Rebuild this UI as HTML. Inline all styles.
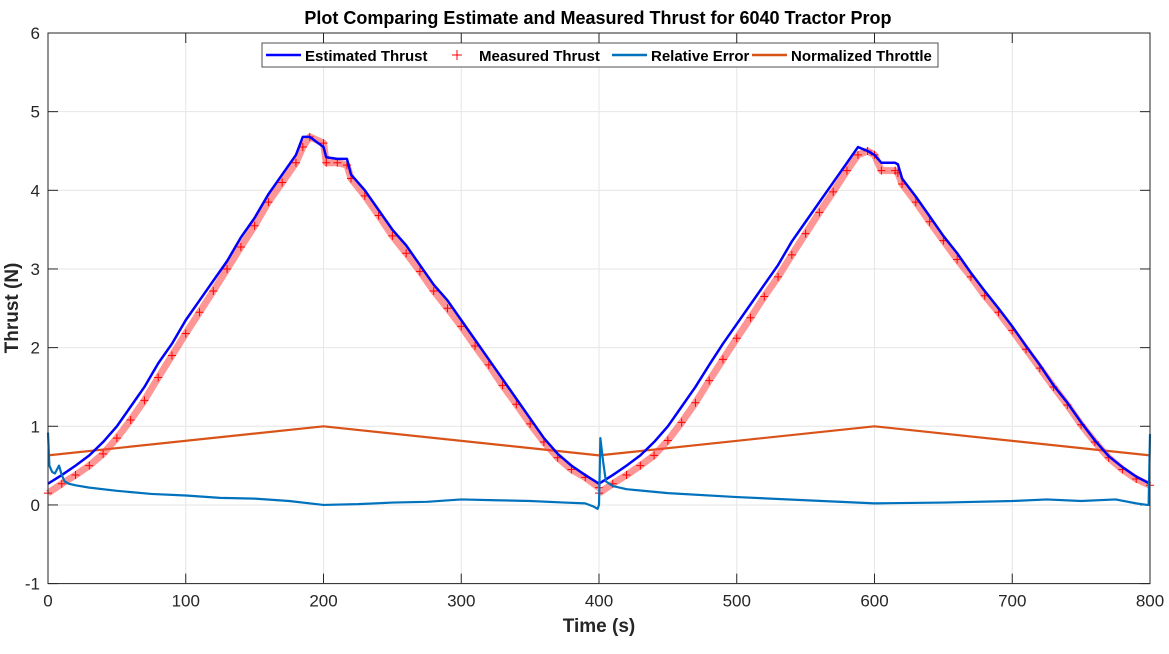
<!DOCTYPE html>
<html><head><meta charset="utf-8"><style>
body{margin:0;background:#fff;width:1169px;height:649px;overflow:hidden;font-family:"Liberation Sans",sans-serif}
</style></head><body>
<svg id="chart" width="1169" height="649" xmlns="http://www.w3.org/2000/svg"></svg>
<script>
const times=[0,10,20,30,40,50,60,70,80,90,100,110,120,130,140,150,160,170,180,185,190,200,202,210,217,220,230,240,250,260,270,280,290,300,310,320,330,340,350,360,370,380,390,400];
const estA=[0.27,0.38,0.5,0.63,0.8,1.0,1.25,1.5,1.8,2.05,2.35,2.6,2.85,3.1,3.4,3.65,3.95,4.2,4.45,4.68,4.68,4.55,4.42,4.4,4.4,4.2,4.0,3.75,3.5,3.3,3.05,2.8,2.6,2.35,2.1,1.85,1.6,1.35,1.1,0.85,0.65,0.5,0.38,0.27];
const measA=[0.15,0.27,0.38,0.5,0.65,0.85,1.08,1.33,1.62,1.9,2.18,2.45,2.72,3.0,3.28,3.55,3.85,4.1,4.35,4.55,4.68,4.6,4.35,4.35,4.32,4.15,3.93,3.68,3.42,3.2,2.97,2.72,2.5,2.27,2.02,1.78,1.52,1.28,1.03,0.8,0.6,0.45,0.35,0.22];
const times2=[400,410,420,430,440,450,460,470,480,490,500,510,520,530,540,550,560,570,580,588,595,600,605,615,617,620,630,640,650,660,670,680,690,700,710,720,730,740,750,760,770,780,790,800];
const estB=[0.27,0.38,0.5,0.63,0.8,1.0,1.25,1.5,1.78,2.05,2.3,2.55,2.8,3.05,3.35,3.6,3.85,4.1,4.35,4.55,4.5,4.45,4.35,4.35,4.33,4.15,3.92,3.67,3.42,3.2,2.95,2.72,2.5,2.27,2.02,1.78,1.52,1.3,1.05,0.82,0.62,0.48,0.36,0.27];
const measB=[0.15,0.27,0.38,0.5,0.63,0.82,1.05,1.3,1.58,1.85,2.12,2.38,2.65,2.9,3.18,3.45,3.72,3.98,4.25,4.45,4.5,4.45,4.25,4.25,4.22,4.08,3.85,3.6,3.36,3.12,2.9,2.66,2.45,2.22,1.98,1.74,1.5,1.27,1.02,0.8,0.6,0.45,0.33,0.25];
const errT=[0,1,3,5,8,10,12,15,20,30,50,75,100,125,150,175,200,225,250,275,300,325,350,375,390,396,399,400,401,403,405,410,420,450,500,550,600,650,700,725,750,775,790,798,799,800];
const errV=[0.92,0.5,0.42,0.4,0.5,0.38,0.3,0.27,0.25,0.22,0.18,0.14,0.12,0.09,0.08,0.05,0.0,0.01,0.03,0.04,0.07,0.06,0.05,0.03,0.02,-0.02,-0.05,0.0,0.85,0.55,0.3,0.24,0.2,0.15,0.1,0.06,0.02,0.03,0.05,0.07,0.05,0.07,0.02,0.0,0.0,0.9];
const thrT=[0,200,400,600,800];
const thrV=[0.63,1.0,0.63,1.0,0.63];
const xTicks=[0,100,200,300,400,500,600,700,800];
const yTicks=[-1,0,1,2,3,4,5,6];
const L=48,R=1150,T=33,B=583.6;
const X=v=>L+(v-0)/(800)*(R-L);
const Y=v=>B-(v+1)/7*(B-T);
const svg=document.getElementById('chart');
const NS='http://www.w3.org/2000/svg';
function mk(tag,attrs,parent){const e=document.createElementNS(NS,tag);for(const k in attrs)e.setAttribute(k,attrs[k]);(parent||svg).appendChild(e);return e;}
let bg=mk('rect',{x:L,y:T,width:R-L,height:B-T,fill:'#fff'});


xTicks.forEach(t=>{
 const g=mk('line',{x1:X(t),x2:X(t),y1:T,y2:B,stroke:'#e6e6e6','stroke-width':1});
 
 
 const tk=mk('text',{x:X(t),y:B+23,'text-anchor':'middle','font-size':17,fill:'#262626'});
 tk.textContent=t;
 
 
 mk('line',{x1:X(t),x2:X(t),y1:B,y2:B-10,stroke:'#262626'});
 mk('line',{x1:X(t),x2:X(t),y1:T,y2:T+10,stroke:'#262626'});
});
yTicks.forEach(t=>{
 const g=mk('line',{x1:L,x2:R,y1:Y(t),y2:Y(t),stroke:'#e6e6e6','stroke-width':1});
 
 
 const tk=mk('text',{x:L-8,y:Y(t)+6,'text-anchor':'end','font-size':17,fill:'#262626'});
 tk.textContent=t;
 
 
 mk('line',{x1:L,x2:L+10,y1:Y(t),y2:Y(t),stroke:'#262626'});
 mk('line',{x1:R,x2:R-10,y1:Y(t),y2:Y(t),stroke:'#262626'});
});
function poly(xs,ys,color,w,name,op){
 const p=mk('polyline',{points:xs.map((t,i)=>X(t)+','+Y(ys[i])).join(' '),fill:'none',stroke:color,'stroke-width':w,'stroke-linejoin':'round','stroke-opacity':op||1});
 
 
 return p;
}
poly(thrT,thrV,'#d95319',2.2,'normalized-throttle-line');
[[times,measA],[times2,measB]].forEach(([ts,vs])=>{
 poly(ts,vs,'#ff4040',7,'measured-thrust-band',0.55);
 ts.forEach((t,i)=>{
  const m=mk('path',{d:`M${X(t)-4},${Y(vs[i])}h8M${X(t)},${Y(vs[i])-4}v8`,stroke:'#ff0000','stroke-width':1});
  
  
 });
});
poly(times,estA,'#0000ff',2.5,'estimated-thrust-line-1');
poly(times2,estB,'#0000ff',2.5,'estimated-thrust-line-2');
poly(errT,errV,'#0072bd',2.2,'relative-error-line');
const fr=mk('rect',{x:L,y:T,width:R-L,height:B-T,fill:'none',stroke:'#262626','stroke-width':1});


const title=mk('text',{x:598,y:24,'text-anchor':'middle','font-size':18,'font-weight':'bold',fill:'#000'});
title.textContent='Plot Comparing Estimate and Measured Thrust for 6040 Tractor Prop';


const xl=mk('text',{x:599,y:632,'text-anchor':'middle','font-size':19,'font-weight':'bold',fill:'#262626'});
xl.textContent='Time (s)';


const yl=mk('text',{x:18,y:308,'text-anchor':'middle','font-size':19,'font-weight':'bold',fill:'#262626',transform:'rotate(-90 18 308)'});
yl.textContent='Thrust (N)';


const lg=mk('g',{});


mk('rect',{x:262,y:43,width:676,height:24,fill:'#fff',stroke:'#262626','stroke-width':0.8},lg);
const entries=[['Estimated Thrust','#0000ff','line',266],['Measured Thrust','#ff0000','plus',440],['Relative Error','#0072bd','line',612],['Normalized Throttle','#d95319','line',752]];
entries.forEach(([lab,c,kind,x])=>{
 const g=mk('g',{},lg);
 
 
 if(kind==='line')mk('line',{x1:x,x2:x+35,y1:55,y2:55,stroke:c,'stroke-width':2.5},g);
 else mk('path',{d:`M${x+12},55h10M${x+17},50v10`,stroke:c,'stroke-width':1},g);
 const t=mk('text',{x:x+39,y:61,'font-size':15,'font-weight':'bold',fill:'#000'},g);
 t.textContent=lab;
});
</script>
</body></html>
